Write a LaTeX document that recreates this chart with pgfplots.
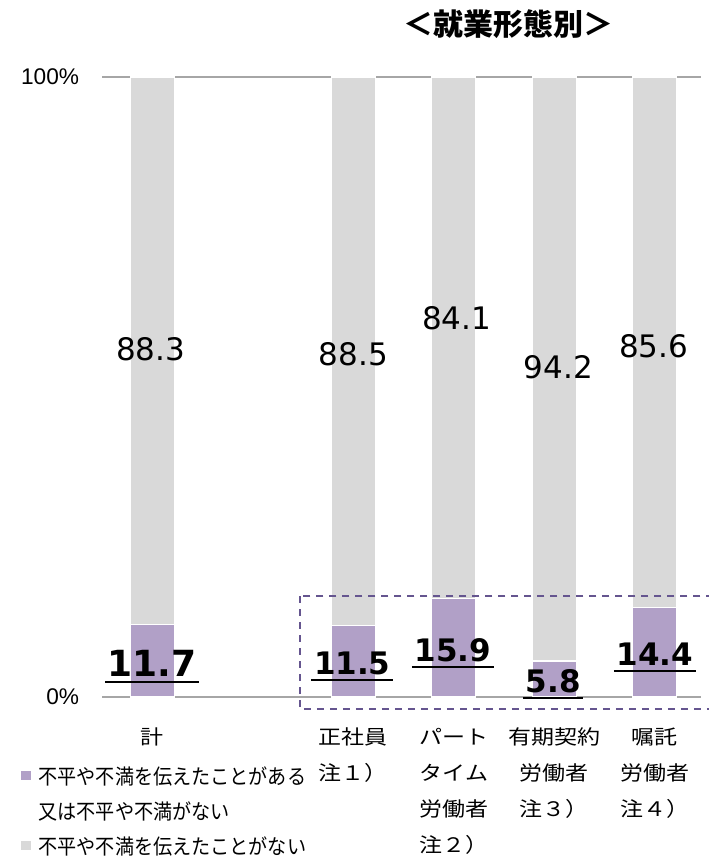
\documentclass[border=0pt]{standalone}
\usepackage{pgfplots}
\pgfplotsset{compat=1.18}
\usepackage{fontspec}
\setmainfont{DejaVu Sans}
\newfontfamily\cjk{Noto Sans CJK JP}
\newfontfamily\tickcjk[FakeStretch=1.15]{Noto Sans CJK JP}
\newfontfamily\legcjk[FakeStretch=0.91]{Noto Sans CJK JP}
\newfontfamily\arial{Liberation Sans}
\newfontfamily\verd{DejaVu Sans}
\definecolor{purp}{HTML}{B1A0C7}
\definecolor{lgray}{HTML}{D9D9D9}
\definecolor{axgray}{HTML}{A6A6A6}
\definecolor{dashc}{HTML}{65558F}
\newcommand{\ulb}[1]{\vtop{\hbox{\kern2pt#1\kern2pt}\kern3pt\hrule height 1.5pt}}
\begin{document}
\begin{tikzpicture}
\path[use as bounding box] (0pt,0pt) rectangle (531pt,643.5pt);
\begin{axis}[
  at={(76.5pt,120.75pt)}, anchor=south west,
  scale only axis, width=449.25pt, height=465pt,
  ybar stacked, bar width=0.438,
  ymin=0, ymax=100, xmin=-0.5, xmax=5.46,
  axis line style={draw=none},
  ymajorgrids, grid style={axgray, line width=1.5pt},
  major tick length=0pt,
  xtick={0,2,3,4,5},
  xticklabels={計, 正社員\\注１）, パート\\タイム\\労働者\\注２）, 有期契約\\労働者\\注３）, 嘱託\\労働者\\注４）},
  xticklabel style={font=\tickcjk\fontsize{15}{27}\selectfont, align=center, anchor=north, inner sep=0pt, yshift=-23pt},
  ytick={0,100}, yticklabels={0\%,100\%},
  yticklabel style={font=\arial\fontsize{17}{20}\selectfont, anchor=east, inner sep=0pt, xshift=-17pt},
  clip=false,
  legend style={at={(-0.1352,-0.1145)}, anchor=north west, draw=none, fill=none,
    font=\legcjk\fontsize{15.75}{18}\selectfont, inner sep=0pt, row sep=11.25pt, column sep=6pt,
    nodes={inner sep=0pt, text height=12pt, text depth=3pt}},
  legend cell align=left,
]
\addplot[fill=purp, draw=white, line width=1pt,
  legend image code/.code={\fill[purp] (0pt,-1pt) rectangle (6pt,5pt);}]
  coordinates {(0,11.7) (2,11.5) (3,15.9) (4,5.8) (5,14.4)};
\addlegendentry{不平や不満を伝えたことがある}
\addlegendimage{empty legend}
\addlegendentry{又は不平や不満がない}
\addplot[fill=lgray, draw=white, line width=1pt,
  legend image code/.code={\fill[lgray] (0pt,-1pt) rectangle (6pt,5pt);}]
  coordinates {(0,88.3) (2,88.5) (3,84.1) (4,94.2) (5,85.6)};
\addlegendentry{不平や不満を伝えたことがない}

\coordinate (g1) at (axis cs:-0.015,54.35);
\coordinate (g2) at (axis cs:2.0,53.4);
\coordinate (g3) at (axis cs:3.03,59.2);
\coordinate (g4) at (axis cs:4.04,51.45);
\coordinate (g5) at (axis cs:4.99,54.8);
\coordinate (p1) at (axis cs:0,3.23);
\coordinate (p2) at (axis cs:1.99,3.55);
\coordinate (p3) at (axis cs:2.99,5.65);
\coordinate (p4) at (axis cs:3.99,0.65);
\coordinate (p5) at (axis cs:5.0,5.0);
\coordinate (d1) at (axis cs:1.468,16.29);
\coordinate (d2) at (axis cs:5.7,-1.94);
\end{axis}
\tikzset{vlab/.style={anchor=base, font=\verd\fontsize{23.25}{28}\selectfont},
         blab/.style={anchor=base, font=\verd\bfseries\fontsize{23.25}{28}\selectfont}}
\node[vlab] at (g1) {88.3};
\node[vlab] at (g2) {88.5};
\node[vlab] at (g3) {84.1};
\node[vlab] at (g4) {94.2};
\node[vlab] at (g5) {85.6};
\node[anchor=base, font=\verd\bfseries\fontsize{27}{30}\selectfont] at (p1) {\ulb{11.7}};
\node[blab] at (p2) {\ulb{11.5}};
\node[blab] at (p3) {\ulb{15.9}};
\node[blab] at (p4) {\ulb{5.8}};
\node[blab] at (p5) {\ulb{14.4}};
\draw[dashc, line width=1.5pt, dash pattern=on 5.25pt off 4.5pt] (d1) rectangle (d2);
\node[font=\cjk\bfseries\fontsize{22.5}{26}\selectfont] at (381pt,625.5pt) {＜就業形態別＞};
\end{tikzpicture}
\end{document}
